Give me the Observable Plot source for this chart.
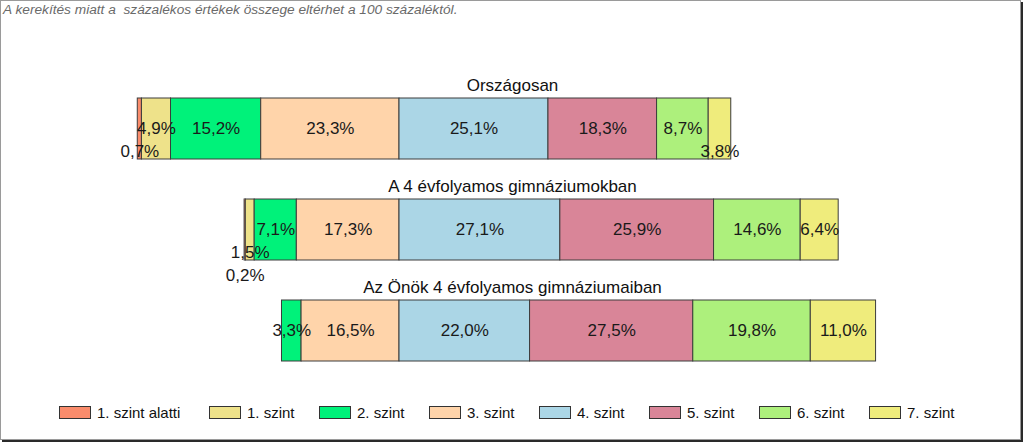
<!DOCTYPE html>
<html>
<head>
<meta charset="utf-8">
<script src="https://cdn.jsdelivr.net/npm/d3@7"></script>
<script src="https://cdn.jsdelivr.net/npm/@observablehq/plot@0.6"></script>
<style>
  html, body { margin: 0; padding: 0; background: #fff; }
  #wrap { position: relative; width: 1024px; height: 443px; overflow: hidden; font-family: "Liberation Sans", Arial, sans-serif; }
  #frame { position: absolute; left: 0; top: 0; width: 1021px; height: 440px; box-sizing: border-box; border: 1px solid #9a9a9a; box-shadow: 2px 2px 0 #2a2a2a; }
  #note { position: absolute; left: 3px; top: 2px; font-size: 13.7px; font-style: italic; color: #6a6a6a; white-space: pre; }
  #chart { position: absolute; left: 0; top: 0; }
  #legend { position: absolute; left: 59px; top: 404px; display: flex; align-items: center; font-size: 15px; color: #111; }
  .item { display: flex; align-items: center; width: 110px; }
  .item:first-child { width: 150px; }
  .sw { width: 32px; height: 13px; box-sizing: border-box; border: 1px solid #333; margin-right: 6px; }
</style>
</head>
<body>
<div id="wrap">
  <div id="frame"></div>
  <div id="chart"></div>
  <div id="note">A kerekítés miatt a  százalékos értékek összege eltérhet a 100 százaléktól.</div>
  <div id="legend"></div>
</div>
<script>
// ---- data ----
const groups = ["Országosan", "A 4 évfolyamos gimnáziumokban", "Az Önök 4 évfolyamos gimnáziumaiban"];
const levels = ["1. szint alatti", "1. szint", "2. szint", "3. szint", "4. szint", "5. szint", "6. szint", "7. szint"];
const orszagosan = [0.7, 4.9, 15.2, 23.3, 25.1, 18.3, 8.7, 3.8];
const gimn4 = [0.2, 1.5, 7.1, 17.3, 27.1, 25.9, 14.6, 6.4];
const onok4 = [0, 0, 3.3, 16.5, 22.0, 27.5, 19.8, 11.0];
const colors = ["#FA8C6C", "#EEE28A", "#00F27A", "#FFD4AA", "#ABD6E6", "#D98598", "#ADF07C", "#EFEC7C"];
const negativeCount = 4; // levels left of the centre line

// ---- build diverging stack ----
const seriesByGroup = [orszagosan, gimn4, onok4];
const rows = [];
groups.forEach((g, gi) => {
  const vals = seriesByGroup[gi];
  const leftSum = d3.sum(vals.slice(0, negativeCount));
  let cum = -leftSum;
  vals.forEach((v, li) => {
    rows.push({group: g, level: levels[li], value: v, x1: cum, x2: cum + v});
    cum += v;
  });
});
const fmt = v => v.toFixed(1).replace(".", ",") + "%";

// label placement for crowded small segments (drop steps below the bar centre)
const drop = {
  "Országosan|1. szint alatti": 1,
  "Országosan|7. szint": 1,
  "A 4 évfolyamos gimnáziumokban|1. szint": 1,
  "A 4 évfolyamos gimnáziumokban|1. szint alatti": 2
};
const labelled = rows.filter(d => d.value > 0);
const dropOf = d => drop[d.group + "|" + d.level] || 0;

const chart = Plot.plot({
  width: 1024,
  height: 402,
  marginTop: 57,
  marginBottom: 0,
  marginLeft: 0,
  marginRight: 0,
  style: {fontFamily: "'Liberation Sans', Arial, sans-serif", background: "transparent"},
  x: {domain: [-67.23, 105.31], axis: null},
  y: {domain: groups, padding: 0.4, axis: null},
  color: {domain: levels, range: colors},
  marks: [
    Plot.barX(rows.filter(d => d.value > 0), {x1: "x1", x2: "x2", y: "group", fill: "level", stroke: "#3c3c3c", strokeWidth: 1}),
    Plot.text(labelled.filter(d => dropOf(d) === 0), {x: d => (d.x1 + d.x2) / 2, y: "group", text: d => fmt(d.value), fontSize: 17, fill: "#1a1a1a"}),
    Plot.text(labelled.filter(d => dropOf(d) === 1), {x: d => (d.x1 + d.x2) / 2, y: "group", text: d => fmt(d.value), fontSize: 17, fill: "#1a1a1a", dy: 23}),
    Plot.text(labelled.filter(d => dropOf(d) === 2), {x: d => (d.x1 + d.x2) / 2, y: "group", text: d => fmt(d.value), fontSize: 17, fill: "#1a1a1a", dy: 46}),
    Plot.text(groups, {y: d => d, text: d => d, frameAnchor: "middle", dy: -43, fontSize: 17, fill: "#111"})
  ]
});
document.getElementById("chart").appendChild(chart);

// ---- legend ----
const legend = document.getElementById("legend");
levels.forEach((l, i) => {
  const item = document.createElement("div");
  item.className = "item";
  const sw = document.createElement("div");
  sw.className = "sw";
  sw.style.background = colors[i];
  const t = document.createElement("span");
  t.textContent = l;
  item.appendChild(sw);
  item.appendChild(t);
  legend.appendChild(item);
});
</script>
</body>
</html>
